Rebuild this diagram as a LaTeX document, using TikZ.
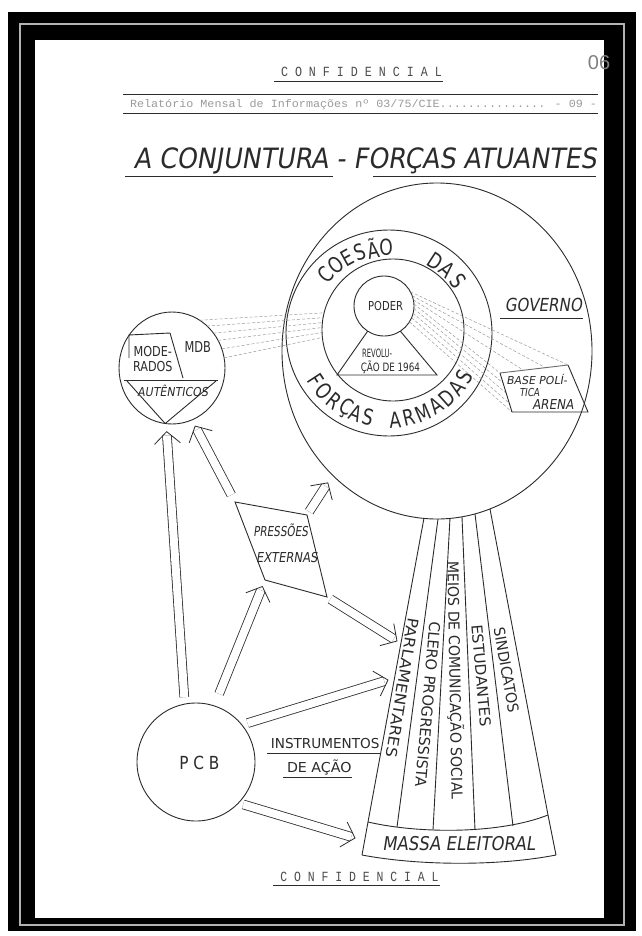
\documentclass[tikz,border=0pt]{standalone}
\usepackage{fontspec}
\usepackage{graphicx}
\usetikzlibrary{arrows.meta,calc,shapes.geometric}
\newfontfamily\lettr{DejaVu Sans}
\newfontfamily\lettrs{DejaVu Sans}[FakeSlant=0.18]
\newfontfamily\typew{Liberation Mono}
\newfontfamily\handw{Liberation Sans}
\definecolor{ink}{HTML}{2B2B2B}
\definecolor{faint}{HTML}{9A9A9A}
\newcommand\fitt[4]{\resizebox{#1pt}{\height}{\fontsize{#2pt}{#2pt}\selectfont#3 #4}}
\newcommand\rl[1]{\scalebox{0.78}[1]{#1}}
% hollow double arrow: start, end, shorten start, shorten end
\newcommand\harr[4]{%
  \coordinate (hs) at ($(#1)!#3!(#2)$);
  \coordinate (he) at ($(#2)!#4!(#1)$);
  \draw[dline] (hs) -- ($(he)!4pt!(hs)$);
  \draw[ahead] ($(he)!12pt!(hs)!13pt!90:(hs)$) -- (he) -- ($(he)!12pt!(hs)!13pt!-90:(hs)$);
}
\begin{document}
\begin{tikzpicture}[x=1pt,y=1pt,
  lbl/.style={text=ink, inner sep=0pt, outer sep=0pt, anchor=base},
  vlbl/.style={text=ink, inner sep=0pt, outer sep=0pt},
  ringlt/.style={text=ink, inner sep=0pt, font=\fontsize{22pt}{22pt}\selectfont\lettr},
  shp/.style={draw=ink, line width=0.9pt, inner sep=0pt, outer sep=0pt},
  ln/.style={draw=ink, line width=0.9pt},
  bundle/.style={draw=faint, line width=0.5pt, densely dashed},
  dline/.style={draw=ink, line width=0.8pt, double=white, double distance=8pt},
  ahead/.style={draw=ink, line width=0.8pt, line join=miter},
  rule/.style={draw=ink, line width=0.7pt}]
\useasboundingbox (0,0) rectangle (641,-936);
% frame
\fill[white] (0,0) rectangle (641,-936);
\fill[black] (8,-12) rectangle (636,-931);
\draw[gray!60, line width=1.2pt] (20,-24) rectangle (624,-925);
\fill[white] (35,-40) rectangle (604,-918);

% header
\node[lbl, text=ink!85] (conf1) at (358,-77) {\fitt{168}{14}{\typew}{C O N F I D E N C I A L}};
\draw[rule] (274,-81) -- (443,-81);
\node[lbl, text=gray] (pg) at (599,-70) {\fontsize{20pt}{20pt}\selectfont\handw 06};
\draw[rule] (123,-94) -- (598,-94);
\node[lbl, text=faint] (rel) at (360,-108) {\fitt{474}{11}{\typew}{Relatório Mensal de Informações nº 03/75/CIE............... - 09 -}};
\draw[rule] (123,-113) -- (598,-113);
\node[lbl] (title) at (361,-168) {\fitt{471}{28}{\lettrs}{A CONJUNTURA - FORÇAS ATUANTES}};
\draw[rule, line width=1pt] (125,-177) -- (333,-177);
\draw[rule, line width=1pt] (373,-177) -- (596,-177);

% main shapes
\node[shp, ellipse, minimum width=310pt, minimum height=336pt] (gov) at (437,-351) {};
\node[shp, circle, minimum size=206pt] (ring) at (389,-333) {};
\node[shp, circle, minimum size=142pt] (inner) at (393,-330) {};
\node[shp, circle, minimum size=60pt] (poder) at (384,-306) {};
\node[shp, ellipse, minimum width=106pt, minimum height=112pt] (mdb) at (172,-368) {};
\node[shp, circle, minimum size=118pt] (pcb) at (196,-762) {};

% left bundle MDB -> inner ring
\foreach \a/\b in {60/166,50/170,40/174,31/178,21/182,11/186}
  \draw[bundle] (mdb.\a) -- (inner.\b);

% base politica box and bundle
\coordinate (bA) at (500,-373);
\coordinate (bB) at (568,-365);
\coordinate (bC) at (588,-412);
\coordinate (bD) at (512,-412);
\coordinate (bE1) at (546,-368);
\coordinate (bE2) at (523,-370);
\coordinate (bF1) at (503,-383);
\coordinate (bF2) at (506,-393);
\coordinate (bF3) at (509,-403);
\foreach \a/\p in {28/bB,20/bE1,12/bE2,4/bA,-5/bF1,-14/bF2,-23/bF3,-32/bD}
  \draw[bundle] (poder.\a) -- (\p);
\draw[ln] (bA) -- (bD) -- (bC) -- (bB);
\draw[ln, draw=ink!70] (bA) -- (bB);
\node[lbl] (bp1) at (535,-384) {\fitt{64}{11}{\lettrs}{BASE POLÍ-}};
\node[lbl] (bp2) at (528,-396.5) {\fitt{23}{11}{\lettrs}{TICA}};
\node[lbl] (bp3) at (551,-409.5) {\fitt{45}{13.7}{\lettrs}{ARENA}};

% revolucao triangle
\coordinate (tL) at (337,-375);
\coordinate (tR) at (437,-375);
\draw[ln] (poder.237) -- (tL) -- (tR) -- (poder.303);
\node[lbl] (rev1) at (376,-357) {\fitt{32}{11.5}{\lettr}{REVOLU-}};
\node[lbl] (rev2) at (389,-371) {\fitt{62}{11.5}{\lettr}{ÇÃO DE 1964}};
\node[lbl] (pod) at (384,-310.5) {\fitt{38}{12.3}{\lettr}{PODER}};

% governo
\node[lbl] (govt) at (541,-311.5) {\fitt{82}{18}{\lettrs}{GOVERNO}};
\draw[rule] (500,-318) -- (583,-318);

% ring text
\coordinate (rc) at (389,-333);
\foreach \ch/\ang in {C/137,O/128,E/119,S/110,Ã/101,O/92}
  \node[ringlt, rotate=\ang-90] at ($(rc)+(\ang:86)$) {\rl{\ch}};
\foreach \ch/\ang in {D/57,A/47,S/37}
  \node[ringlt, rotate=\ang-90] at ($(rc)+(\ang:86)$) {\rl{\ch}};
\foreach \ch/\ang in {F/213,O/222,R/231,Ç/240,A/248,S/256,A/274,R/283,M/293,A/303,D/312,A/321,S/330}
  \node[ringlt, rotate=\ang+90] at ($(rc)+(\ang:87)$) {\rl{\ch}};

% MDB interior
\draw[ln] (129,-358) -- (129,-335) -- (170,-333) -- (183,-378);
\draw[ln] (124,-380) -- (218,-380);
\draw[ln] (127,-381) -- (mdb.263);
\draw[ln] (216,-381) -- (mdb.263);
\node[lbl] (mod1) at (151,-356) {\fitt{42}{13.7}{\lettr}{MODE-}};
\node[lbl] (mod2) at (151,-371) {\fitt{43}{13.7}{\lettr}{RADOS}};
\node[lbl] (mdbt) at (196,-352.5) {\fitt{30}{15}{\lettr}{MDB}};
\node[lbl] (aut) at (171,-396.5) {\fitt{74}{12.3}{\lettrs}{AUTÊNTICOS}};

% pressoes externas
\coordinate (pA) at (235,-502);
\coordinate (pB) at (307,-515);
\coordinate (pC) at (327,-597);
\coordinate (pD) at (265,-580);
\draw[ln] (pA) -- (pB) -- (pC) -- (pD) -- cycle;
\node[lbl] (pr1) at (279,-536) {\fitt{58}{13.7}{\lettrs}{PRESSÕES}};
\node[lbl] (pr2) at (285,-562) {\fitt{65}{13.7}{\lettrs}{EXTERNAS}};

% fan of rays
\coordinate (r1t) at (424,-518);
\coordinate (r2t) at (438,-519);
\coordinate (r3t) at (450,-518);
\coordinate (r4t) at (462,-517);
\coordinate (r5t) at (475,-514);
\coordinate (r6t) at (490,-509);
\coordinate (r1b) at (368,-822);
\coordinate (r2b) at (397,-827);
\coordinate (r3b) at (433,-830);
\coordinate (r4b) at (475,-830);
\coordinate (r5b) at (513,-826);
\coordinate (r6b) at (548,-815);
\coordinate (m1) at (362,-855);
\coordinate (m2) at (556,-855);
\foreach \i in {2,3,4,5}
  \draw[ln] (r\i t) -- (r\i b);
\draw[ln] (r1t) -- (r1b) -- (m1);
\draw[ln] (r6t) -- (r6b) -- (m2);
\draw[ln] (r1b) .. controls (420,-834) and (500,-834) .. (r6b);
\draw[ln] (m1) .. controls (420,-866) and (500,-866) .. (m2);
\node[lbl] (massa) at (456,-850) {\fitt{158}{19}{\lettrs}{MASSA ELEITORAL}};

\node[vlbl, rotate=-99] (parl) at (403,-685) {\fitt{146}{15}{\lettr}{PARLAMENTARES}};
\node[vlbl, rotate=-95] (cler) at (428,-702) {\fitt{171}{15}{\lettr}{CLERO PROGRESSISTA}};
\node[vlbl, rotate=-89] (meio) at (455,-678) {\fitt{243}{15}{\lettr}{MEIOS DE COMUNICAÇÃO SOCIAL}};
\node[vlbl, rotate=-85] (estu) at (481,-673) {\fitt{107}{15}{\lettr}{ESTUDANTES}};
\node[vlbl, rotate=-80] (sind) at (506,-668) {\fitt{91}{15}{\lettr}{SINDICATOS}};

% PCB
\node[lbl] (pcbt) at (197,-769.5) {\fitt{45}{18}{\lettr}{P C B}};
\node[lbl] (ins1) at (323,-748) {\fitt{113}{13.7}{\lettr}{INSTRUMENTOS}};
\draw[rule] (267,-753) -- (380,-753);
\node[lbl] (ins2) at (317,-772) {\fitt{69}{13.7}{\lettr}{DE AÇÃO}};
\draw[rule] (283,-777) -- (352,-777);

% arrows
\coordinate (f5) at (397,-641);
\coordinate (f6) at (388,-680);
\coordinate (f7) at (355,-838);
\harr{pcb.101}{mdb.264}{7pt}{8pt}
\harr{pA}{mdb.291}{8pt}{7pt}
\harr{pcb.72}{pD}{13pt}{7pt}
\harr{pB}{gov.230}{4pt}{9pt}
\harr{pC}{f5}{4pt}{0pt}
\harr{pcb.39}{f6}{6pt}{0pt}
\harr{pcb.-44}{f7}{5pt}{0pt}

% footer
\node[lbl, text=ink!85] (conf2) at (356,-881) {\fitt{165}{14}{\typew}{C O N F I D E N C I A L}};
\draw[rule] (273,-885) -- (440,-885);
\end{tikzpicture}
\end{document}
